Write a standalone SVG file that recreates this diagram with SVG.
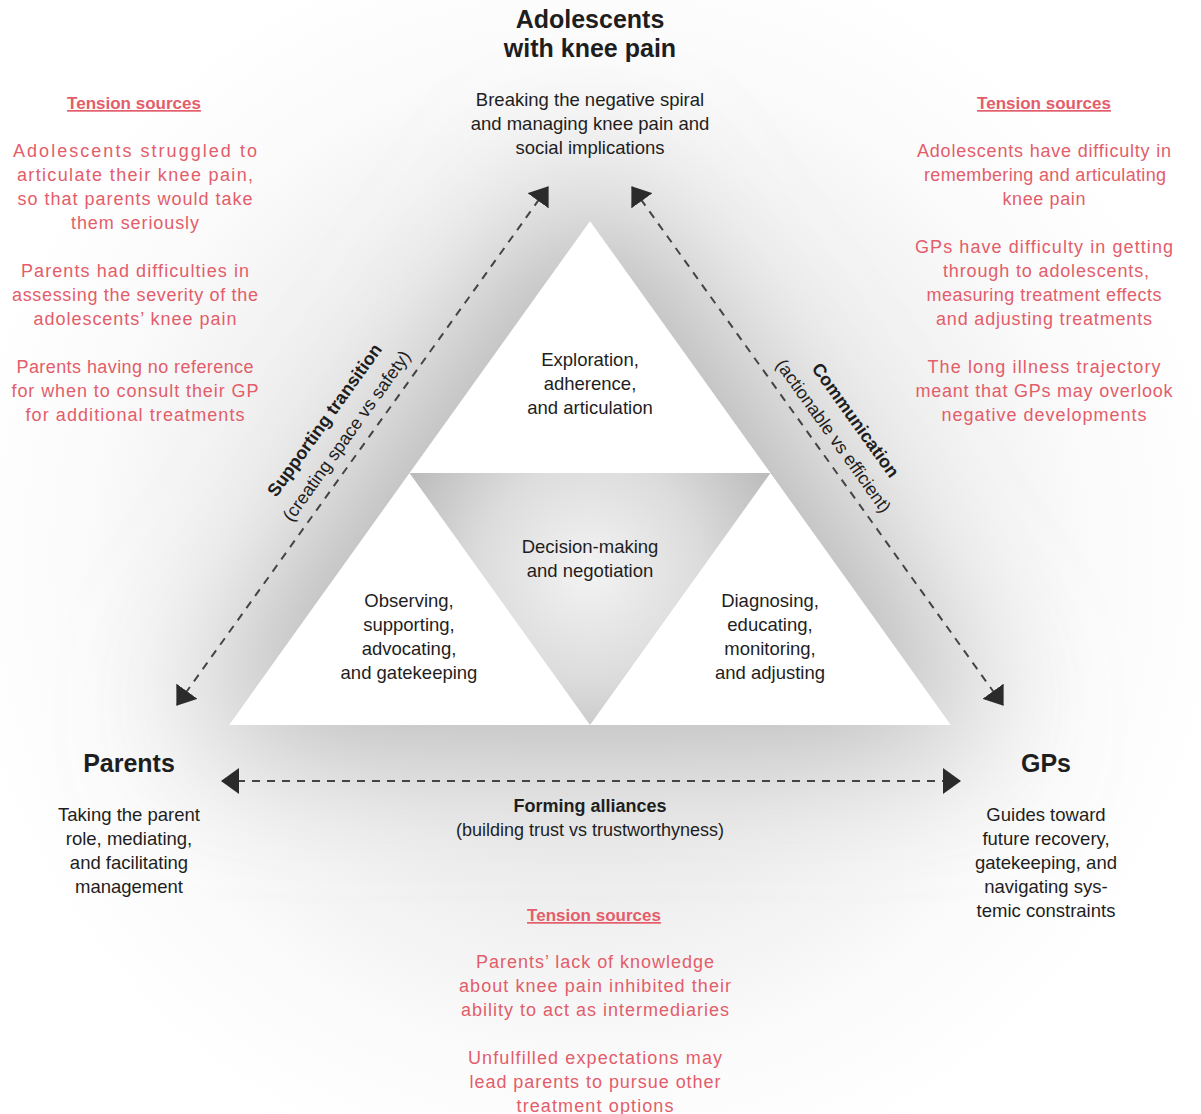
<svg xmlns="http://www.w3.org/2000/svg" width="1201" height="1114" viewBox="0 0 1201 1114">
<defs>
<style>
.t{font-family:'Liberation Sans',Arial,sans-serif;fill:#1e1e1e;text-anchor:middle}
.title{font-size:25px;font-weight:bold}
.body{font-size:18.5px}
.lbl{font-size:18px;font-weight:bold}
.sub{font-size:18px}
.red{fill:#e35d6a;font-size:18px}
.redh{fill:#e35d6a;font-size:17px;font-weight:bold;text-decoration:underline}
.conn{fill:none;stroke:#444;stroke-width:2;stroke-dasharray:8 7}
.white{fill:#ffffff}
</style>
<filter id="blur1" x="-60%" y="-60%" width="220%" height="220%"><feGaussianBlur stdDeviation="70"/></filter>
<radialGradient id="halo" cx="590" cy="560" r="640" gradientUnits="userSpaceOnUse">
<stop offset="0" stop-color="#e2e2e2"/>
<stop offset="0.45" stop-color="#ebebeb"/>
<stop offset="0.8" stop-color="#fbfbfb"/>
<stop offset="1" stop-color="#ffffff"/>
</radialGradient>
<radialGradient id="mid" cx="590" cy="570" r="200" gradientUnits="userSpaceOnUse">
<stop offset="0" stop-color="#f3f3f3"/>
<stop offset="0.55" stop-color="#dcdcdc"/>
<stop offset="1" stop-color="#bcbcbc"/>
</radialGradient>
<marker id="ah" markerUnits="userSpaceOnUse" markerWidth="18" markerHeight="26" viewBox="0 0 18 26" refX="17" refY="13" orient="auto-start-reverse">
<path d="M0,0 L18,13 L0,26 z" fill="#2b2b2b"/>
</marker>
</defs>
<rect width="1201" height="1114" fill="#ffffff"/>
<g id="glow">
<rect width="1201" height="1114" fill="url(#halo)"/>
<polygon points="590,175 190,735 990,735" fill="#b4b4b4" filter="url(#blur1)"/>
</g>
<g id="triangle">
<polygon points="590,221 229,725 951,725" fill="url(#mid)"/>
<polygon class="white" points="590,221 409.5,473 770.5,473"/>
<polygon class="white" points="409.5,473 229,725 590,725"/>
<polygon class="white" points="770.5,473 590,725 951,725"/>
</g>
<g id="connectors">
<line class="conn" x1="548" y1="187" x2="177" y2="705" marker-start="url(#ah)" marker-end="url(#ah)"/>
<line class="conn" x1="632" y1="187" x2="1003" y2="705" marker-start="url(#ah)" marker-end="url(#ah)"/>
<line class="conn" x1="222" y1="781" x2="960" y2="781" marker-start="url(#ah)" marker-end="url(#ah)"/>
<g id="label-supporting" transform="translate(362,447) rotate(-54.39)">
<text class="t lbl" x="0" y="-40">Supporting transition</text>
<text class="t sub" x="0" y="-13">(creating space vs safety)</text>
</g>
<g id="label-communication" transform="translate(818,447) rotate(54.39)">
<text class="t lbl" x="0" y="-40">Communication</text>
<text class="t sub" x="0" y="-13">(actionable vs efficient)</text>
</g>
<g id="label-alliances">
<text class="t lbl" x="590" y="812">Forming alliances</text>
<text class="t sub" x="590" y="836">(building trust vs trustworthyness)</text>
</g>
</g>
<g id="node-adolescents">
<text class="t title" x="590" y="28">Adolescents</text>
<text class="t title" x="590" y="57">with knee pain</text>
<text class="t body" x="590" y="106">Breaking the negative spiral</text>
<text class="t body" x="590" y="130">and managing knee pain and</text>
<text class="t body" x="590" y="154">social implications</text>
</g>
<g id="node-parents">
<text class="t title" x="129" y="772">Parents</text>
<text class="t body" x="129" y="821">Taking the parent</text>
<text class="t body" x="129" y="845">role, mediating,</text>
<text class="t body" x="129" y="869">and facilitating</text>
<text class="t body" x="129" y="893">management</text>
</g>
<g id="node-gps">
<text class="t title" x="1046" y="772">GPs</text>
<text class="t body" x="1046" y="821">Guides toward</text>
<text class="t body" x="1046" y="845">future recovery,</text>
<text class="t body" x="1046" y="869">gatekeeping, and</text>
<text class="t body" x="1046" y="893">navigating sys-</text>
<text class="t body" x="1046" y="917">temic constraints</text>
</g>
<g id="node-top-triangle">
<text class="t body" x="590" y="366">Exploration,</text>
<text class="t body" x="590" y="390">adherence,</text>
<text class="t body" x="590" y="414">and articulation</text>
</g>
<g id="node-center-triangle">
<text class="t body" x="590" y="553">Decision-making</text>
<text class="t body" x="590" y="577">and negotiation</text>
</g>
<g id="node-left-triangle">
<text class="t body" x="409" y="607">Observing,</text>
<text class="t body" x="409" y="631">supporting,</text>
<text class="t body" x="409" y="655">advocating,</text>
<text class="t body" x="409" y="679">and gatekeeping</text>
</g>
<g id="node-right-triangle">
<text class="t body" x="770" y="607">Diagnosing,</text>
<text class="t body" x="770" y="631">educating,</text>
<text class="t body" x="770" y="655">monitoring,</text>
<text class="t body" x="770" y="679">and adjusting</text>
</g>
<g id="tension-left">
<text class="t redh" x="134" y="109">Tension sources</text>
<text class="t red" x="135" y="157" textLength="244" lengthAdjust="spacing">Adolescents struggled to</text>
<text class="t red" x="135" y="181" textLength="236" lengthAdjust="spacing">articulate their knee pain,</text>
<text class="t red" x="135" y="205" textLength="235" lengthAdjust="spacing">so that parents would take</text>
<text class="t red" x="135" y="229" textLength="128" lengthAdjust="spacing">them seriously</text>
<text class="t red" x="135" y="277" textLength="228" lengthAdjust="spacing">Parents had difficulties in</text>
<text class="t red" x="135" y="301" textLength="246" lengthAdjust="spacing">assessing the severity of the</text>
<text class="t red" x="135" y="325" textLength="203" lengthAdjust="spacing">adolescents’ knee pain</text>
<text class="t red" x="135" y="373" textLength="237" lengthAdjust="spacing">Parents having no reference</text>
<text class="t red" x="135" y="397" textLength="247" lengthAdjust="spacing">for when to consult their GP</text>
<text class="t red" x="135" y="421" textLength="219" lengthAdjust="spacing">for additional treatments</text>
</g>
<g id="tension-right">
<text class="t redh" x="1044" y="109">Tension sources</text>
<text class="t red" x="1044" y="157" textLength="254" lengthAdjust="spacing">Adolescents have difficulty in</text>
<text class="t red" x="1045" y="181" textLength="242" lengthAdjust="spacing">remembering and articulating</text>
<text class="t red" x="1044" y="205" textLength="83" lengthAdjust="spacing">knee pain</text>
<text class="t red" x="1044" y="253" textLength="258" lengthAdjust="spacing">GPs have difficulty in getting</text>
<text class="t red" x="1046" y="277" textLength="206" lengthAdjust="spacing">through to adolescents,</text>
<text class="t red" x="1044" y="301" textLength="235" lengthAdjust="spacing">measuring treatment effects</text>
<text class="t red" x="1044" y="325" textLength="216" lengthAdjust="spacing">and adjusting treatments</text>
<text class="t red" x="1044" y="373" textLength="233" lengthAdjust="spacing">The long illness trajectory</text>
<text class="t red" x="1044" y="397" textLength="257" lengthAdjust="spacing">meant that GPs may overlook</text>
<text class="t red" x="1044" y="421" textLength="205" lengthAdjust="spacing">negative developments</text>
</g>
<g id="tension-bottom">
<text class="t redh" x="594" y="921">Tension sources</text>
<text class="t red" x="595" y="968" textLength="238" lengthAdjust="spacing">Parents’ lack of knowledge</text>
<text class="t red" x="595" y="992" textLength="272" lengthAdjust="spacing">about knee pain inhibited their</text>
<text class="t red" x="595" y="1016" textLength="268" lengthAdjust="spacing">ability to act as intermediaries</text>
<text class="t red" x="595" y="1064" textLength="254" lengthAdjust="spacing">Unfulfilled expectations may</text>
<text class="t red" x="595" y="1088" textLength="251" lengthAdjust="spacing">lead parents to pursue other</text>
<text class="t red" x="595" y="1112" textLength="157" lengthAdjust="spacing">treatment options</text>
</g>
</svg>
